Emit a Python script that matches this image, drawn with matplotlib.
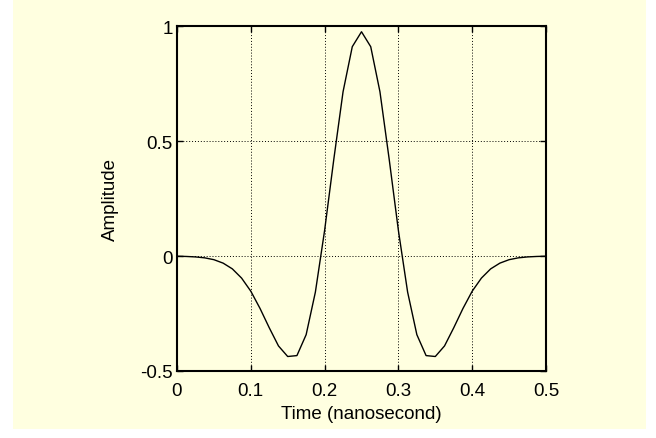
import matplotlib
matplotlib.use("Agg")
import matplotlib.pyplot as plt
from matplotlib.patches import Rectangle

plt.rcParams['font.family'] = ['Liberation Sans', 'DejaVu Sans']

# Data
time_ns = [0.0, 0.0125, 0.025, 0.0375, 0.05, 0.0625, 0.075, 0.0875, 0.1, 0.1125,
           0.125, 0.1375, 0.15, 0.1625, 0.175, 0.1875, 0.2, 0.2125, 0.225, 0.2375,
           0.25, 0.2625, 0.275, 0.2875, 0.3, 0.3125, 0.325, 0.3375, 0.35, 0.3625,
           0.375, 0.3875, 0.4, 0.4125, 0.425, 0.4375, 0.45, 0.4625, 0.475, 0.4875, 0.5]
amplitude = [-0.001, -0.002, -0.004, -0.008, -0.016, -0.031, -0.056, -0.096, -0.153, -0.228,
             -0.312, -0.391, -0.437, -0.433, -0.342, -0.157, 0.111, 0.421, 0.714, 0.910,
             0.975, 0.910, 0.714, 0.421, 0.111, -0.157, -0.342, -0.433, -0.437, -0.391,
             -0.312, -0.228, -0.153, -0.096, -0.056, -0.031, -0.016, -0.008, -0.004, -0.002, -0.001]
x_ticks = [0, 0.1, 0.2, 0.3, 0.4, 0.5]
x_tick_labels = ['0', '0.1', '0.2', '0.3', '0.4', '0.5']
y_ticks = [-0.5, 0, 0.5, 1]
y_tick_labels = ['-0.5', '0', '0.5', '1']

bg = '#FFFFE0'
fs = 13.5
fig = plt.figure(figsize=(6.56, 4.39), dpi=100, facecolor='white')
fig.patches.append(Rectangle((13/656, 9/439), 633/656, 430/439, transform=fig.transFigure,
                             facecolor=bg, edgecolor='none', zorder=-10))

ax = fig.add_axes([177/656, 67/439, 369/656, 345/439])
ax.set_facecolor(bg)
ax.plot(time_ns, amplitude, color='black', linewidth=1.0)

ax.set_xlim(0, 0.5)
ax.set_ylim(-0.5, 1)
ax.set_xticks(x_ticks)
ax.set_xticklabels(x_tick_labels)
ax.set_yticks(y_ticks)
ax.set_yticklabels(y_tick_labels)
ax.grid(True, color='black', linestyle=(0, (1, 2)), linewidth=0.7)
ax.tick_params(direction='in', top=True, right=True, length=4, width=1,
               labelsize=fs, colors='black')
ax.tick_params(axis='x', pad=8)
ax.tick_params(axis='y', pad=3)
for s in ax.spines.values():
    s.set_linewidth(1.5)
    s.set_color('black')

ax.set_xlabel('Time (nanosecond)', fontsize=fs)
ax.xaxis.set_label_coords(0.5, -0.098)
ax.set_ylabel('Amplitude', fontsize=fs, va='center')
ax.yaxis.set_label_coords(-0.18, 0.5)

fig.savefig('out.png', dpi=100, facecolor='white')
